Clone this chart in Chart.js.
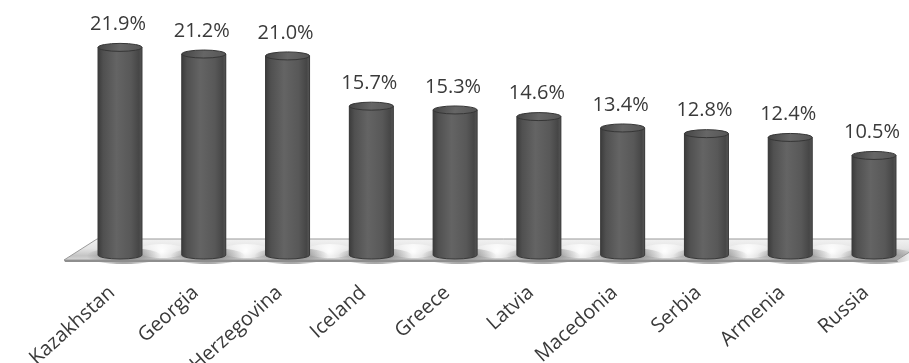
<!DOCTYPE html>
<html>
<head>
<meta charset="utf-8">
<script src="https://cdn.jsdelivr.net/npm/chart.js@4.4.1/dist/chart.umd.min.js"></script>
<style>
  html, body { margin: 0; padding: 0; background: #fff; }
  #wrap { width: 909px; height: 363px; position: relative; }
</style>
</head>
<body>
<div id="wrap"><canvas id="grafica"></canvas></div>
<script>
// paises y porcentajes
const paises = ["Kazakhstan", "Georgia", "Bosnia and Herzegovina", "Iceland", "Greece",
                "Latvia", "Macedonia", "Serbia", "Armenia", "Russia"];
const porcentajes = [21.9, 21.2, 21.0, 15.7, 15.3, 14.6, 13.4, 12.8, 12.4, 10.5];

const fuente = "'Open Sans', 'DejaVu Sans', sans-serif";

// piso gris debajo de los cilindros
const piso = {
  id: 'piso',
  beforeDatasetsDraw(chart) {
    const ctx = chart.ctx;
    const barras = chart.getDatasetMeta(0).data;
    const base = chart.scales.y.getPixelForValue(0);
    const primera = barras[0], ultima = barras[barras.length - 1];
    const arriba = base - 16, abajo = base + 5;
    const izq = primera.x - primera.width / 2 - 1;
    const der = ultima.x + ultima.width / 2 + 1;
    const incl = 33;
    ctx.save();
    // cara superior
    const g = ctx.createLinearGradient(0, arriba, 0, abajo);
    g.addColorStop(0, '#f2f2f2');
    g.addColorStop(0.45, '#e4e4e4');
    g.addColorStop(0.8, '#c4c4c4');
    g.addColorStop(1, '#d6d6d6');
    ctx.beginPath();
    ctx.moveTo(izq, arriba);
    ctx.lineTo(der + incl, arriba);
    ctx.lineTo(der, abajo);
    ctx.lineTo(izq - incl, abajo);
    ctx.closePath();
    ctx.fillStyle = g;
    ctx.fill();
    // brillos entre barras
    for (let i = 0; i < barras.length - 1; i++) {
      const mx = (barras[i].x + barras[i + 1].x) / 2;
      const rg = ctx.createRadialGradient(mx, base - 4, 1, mx, base - 4, 24);
      rg.addColorStop(0, 'rgba(255,255,255,0.95)');
      rg.addColorStop(1, 'rgba(255,255,255,0)');
      ctx.fillStyle = rg;
      ctx.beginPath();
      ctx.ellipse(mx, base - 4, 24, 7, 0, 0, Math.PI * 2);
      ctx.fill();
    }
    // sombras de cada barra
    barras.forEach(b => {
      const rg = ctx.createRadialGradient(b.x + 4, base + 1, 2, b.x + 4, base + 1, b.width * 0.85);
      rg.addColorStop(0, 'rgba(70,70,70,0.55)');
      rg.addColorStop(1, 'rgba(70,70,70,0)');
      ctx.fillStyle = rg;
      ctx.beginPath();
      ctx.ellipse(b.x + 4, base + 1, b.width * 0.85, 8, 0, 0, Math.PI * 2);
      ctx.fill();
    });
    ctx.beginPath();
    ctx.moveTo(izq, arriba);
    ctx.lineTo(der + incl, arriba);
    ctx.lineTo(der, abajo);
    ctx.lineTo(izq - incl, abajo);
    ctx.closePath();
    ctx.strokeStyle = '#9a9a9a';
    ctx.lineWidth = 1;
    ctx.stroke();
    // canto frontal
    ctx.fillStyle = '#8e8e8e';
    ctx.beginPath();
    ctx.moveTo(izq - incl, abajo);
    ctx.lineTo(der, abajo);
    ctx.lineTo(der + 1, abajo + 2);
    ctx.lineTo(izq - incl + 1, abajo + 2);
    ctx.closePath();
    ctx.fill();
    ctx.restore();
  }
};

// cilindros y etiquetas de valor
const cilindros = {
  id: 'cilindros',
  afterDatasetsDraw(chart) {
    const ctx = chart.ctx;
    const barras = chart.getDatasetMeta(0).data;
    ctx.save();
    barras.forEach((b, i) => {
      const w = b.width, x0 = b.x - w / 2, x1 = b.x + w / 2;
      const ry = 4;
      const top = b.y, base = b.base;
      const g = ctx.createLinearGradient(x0, 0, x1, 0);
      g.addColorStop(0, '#3c3c3c');
      g.addColorStop(0.12, '#505050');
      g.addColorStop(0.42, '#646464');
      g.addColorStop(0.75, '#585858');
      g.addColorStop(0.93, '#464646');
      g.addColorStop(1, '#565656');
      ctx.beginPath();
      ctx.moveTo(x0, top);
      ctx.lineTo(x0, base);
      ctx.ellipse(b.x, base, w / 2, ry, 0, Math.PI, 0, true);
      ctx.lineTo(x1, top);
      ctx.closePath();
      ctx.fillStyle = g;
      ctx.fill();
      ctx.strokeStyle = '#3a3a3a';
      ctx.lineWidth = 1;
      ctx.stroke();
      // tapa superior
      const gt = ctx.createLinearGradient(x0, top - ry, x1, top + ry);
      gt.addColorStop(0, '#444444');
      gt.addColorStop(0.5, '#666666');
      gt.addColorStop(1, '#555555');
      ctx.beginPath();
      ctx.ellipse(b.x, top, w / 2, ry, 0, 0, Math.PI * 2);
      ctx.fillStyle = gt;
      ctx.fill();
      ctx.strokeStyle = '#363636';
      ctx.stroke();
      // etiqueta de valor
      ctx.fillStyle = '#3a3a3a';
      ctx.font = '20px ' + fuente;
      ctx.textAlign = 'center';
      ctx.textBaseline = 'middle';
      ctx.fillText(porcentajes[i].toFixed(1) + '%', b.x - 2, top - 23);
    });
    ctx.restore();
  }
};

const $grafica = document.querySelector('#grafica');
new Chart($grafica, {
  type: 'bar',
  data: {
    labels: paises,
    datasets: [{
      data: porcentajes,
      backgroundColor: '#5a5a5a',
      borderWidth: 0,
      categoryPercentage: 1,
      barPercentage: 0.525,
      clip: false,
    }]
  },
  options: {
    responsive: true,
    maintainAspectRatio: false,
    animation: false,
    layout: { padding: { top: 18, left: 120, right: 35, bottom: 0 } },
    plugins: { legend: { display: false }, tooltip: { enabled: false } },
    scales: {
      y: { display: false, min: 0, max: 25 },
      x: {
        offset: false,
        grid: { display: false, drawTicks: false },
        border: { display: false },
        ticks: {
          color: '#3a3a3a',
          font: { size: 20, family: fuente },
          minRotation: 42,
          maxRotation: 42,
          autoSkip: false,
          padding: 26,
          labelOffset: -8,
        },
        afterFit(scale) {
          scale.height = 108;
          scale.paddingLeft = 0;
          scale.paddingRight = 0;
        }
      }
    }
  },
  plugins: [piso, cilindros]
});
</script>
</body>
</html>
